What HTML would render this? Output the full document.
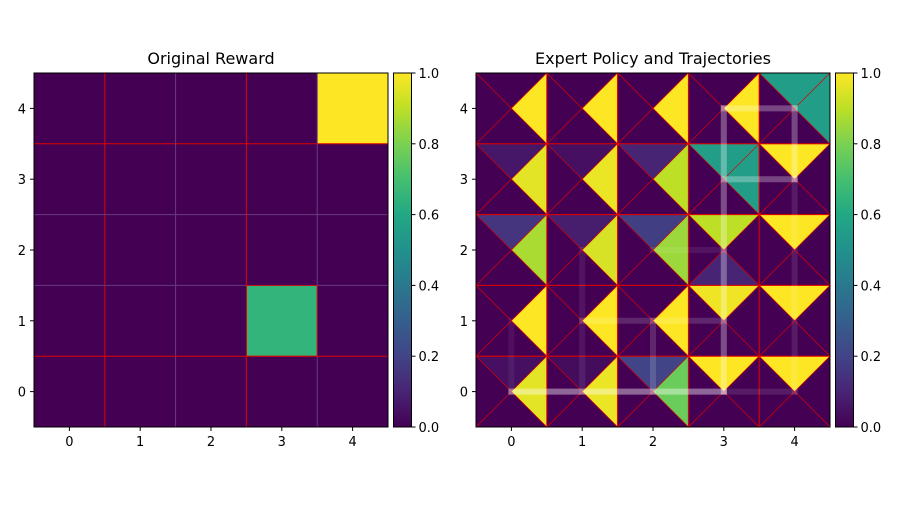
<!DOCTYPE html>
<html><head><meta charset="utf-8"><style>
body{margin:0;background:#fff}
svg text{font-family:"DejaVu Sans","Liberation Sans",sans-serif;fill:#000}
</style></head><body>
<svg id="chart" width="900" height="500" xmlns="http://www.w3.org/2000/svg">
<defs>
<linearGradient id="vir" x1="0" y1="1" x2="0" y2="0">
<stop offset="0" stop-color="#440154"/><stop offset="0.1" stop-color="#482475"/><stop offset="0.2" stop-color="#414487"/><stop offset="0.3" stop-color="#355f8d"/><stop offset="0.4" stop-color="#2a788e"/><stop offset="0.5" stop-color="#21918c"/><stop offset="0.6" stop-color="#22a884"/><stop offset="0.7" stop-color="#44bf70"/><stop offset="0.8" stop-color="#7ad151"/><stop offset="0.9" stop-color="#bddf26"/><stop offset="1" stop-color="#fde725"/>
</linearGradient>
</defs>
<g id="left"></g>
<g id="right"></g>
</svg>
<script>
// Data
const rewardRows = [ // y=4 .. y=0, x=0..4
  [0,0,0,0,1],
  [0,0,0,0,0],
  [0,0,0,0,0],
  [0,0,0,0.65,0],
  [0,0,0,0,0]
];
// policy per cell, rows y=4..0
const policyTop = [
  [0,0,0,0,0.55],[0.06,0.04,0.1,0.55,1],[0.15,0.08,0.18,0.9,1],[0,0,0,0.98,1],[0.04,0.03,0.2,1,1]];
const policyRight = [
  [1,1,1,1,0.55],[0.96,0.97,0.9,0.55,0],[0.87,0.94,0.85,0,0],[1,1,1,0,0],[0.96,0.97,0.77,0,0]];
const policyBottom = [
  [0,0,0,0,0],[0,0,0,0,0],[0,0,0,0.1,0],[0,0,0,0,0],[0,0,0,0,0]];
const policyLeft = [
  [0,0,0,0,0],[0,0,0,0,0],[0,0,0,0,0],[0,0,0,0,0],[0,0,0,0,0]];
const trajSegments = [ // [x1,y1,x2,y2,opacity]
  [0,0,3,0,0.4],[3,0,3,4,0.3],[3,4,4,4,0.28],[4,4,4,3,0.28],[3,3,4,3,0.28],
  [3,0,4,0,0.1],[4,0,4,3,0.1],[1,0,1,2,0.08],[2,0,2,1,0.15],[1,1,3,1,0.15],[2,2,3,2,0.08],[0,0,0,1,0.06]];
const tickLabels = ['0','1','2','3','4'];
const cbTicks = [0,0.2,0.4,0.6,0.8,1.0];

const stops=[[68,1,84],[72,36,117],[65,68,135],[53,95,141],[42,120,142],[33,145,140],[34,168,132],[68,191,112],[122,209,81],[189,223,38],[253,231,37]];
function vir(v){v=Math.max(0,Math.min(1,v));const p=v*10,i=Math.min(9,Math.floor(p)),f=p-i;const a=stops[i],b=stops[i+1];return 'rgb('+a.map((c,k)=>Math.round(c+(b[k]-c)*f)).join(',')+')';}
const NS='http://www.w3.org/2000/svg';
function el(tag,attrs,parent,txt){const e=document.createElementNS(NS,tag);for(const k in attrs)e.setAttribute(k,attrs[k]);if(txt!==undefined)e.textContent=txt;parent.appendChild(e);return e;}
const Y0=73,S=354,C=S/5;
function decorate(g,X0,title){
  const sx=v=>X0+(v+0.5)*C, sy=v=>Y0+(4.5-v)*C;
  const fr=el('rect',{x:X0,y:Y0,width:S,height:S,fill:'none',stroke:'#000','stroke-width':1},g);
  
  const t=el('text',{x:X0+S/2,y:64,'text-anchor':'middle','font-size':16},g,title);
  
  tickLabels.forEach((lb,i)=>{
    el('line',{x1:sx(i),x2:sx(i),y1:Y0+S,y2:Y0+S+4,stroke:'#000'},g);
    const a=el('text',{x:sx(i),y:Y0+S+19,'text-anchor':'middle','font-size':13},g,lb);
    
    el('line',{x1:X0-4,x2:X0,y1:sy(i),y2:sy(i),stroke:'#000'},g);
    const b=el('text',{x:X0-8,y:sy(i)+5,'text-anchor':'end','font-size':13},g,lb);
    
  });
  const cx=X0+S+5.5,cw=18;
  const cb=el('rect',{x:cx,y:Y0,width:cw,height:S,fill:'url(#vir)',stroke:'#000','stroke-width':1},g);
  
  cbTicks.forEach(v=>{const y=Y0+S-v*S;
    el('line',{x1:cx+cw,x2:cx+cw+4,y1:y,y2:y,stroke:'#000'},g);
    const t2=el('text',{x:cx+cw+7,y:y+5,'font-size':13},g,v.toFixed(1));
    
  });
}
// Left
const L=document.getElementById('left'),LX=34;
rewardRows.forEach((row,r)=>row.forEach((v,c)=>{
  const rc=el('rect',{x:LX+c*C,y:Y0+r*C,width:C+0.5,height:C+0.5,fill:vir(v)},L);
  
}));
for(let i=1;i<5;i++){
  const red=(i===1||i===3);
  el('line',{x1:LX+i*C,x2:LX+i*C,y1:Y0,y2:Y0+S,stroke:red?'#e00000':'#6a3a80','stroke-width':1},L);
  const redH=(i===1||i===4);
  el('line',{x1:LX,x2:LX+S,y1:Y0+i*C,y2:Y0+i*C,stroke:redH?'#e00000':'#6a3a80','stroke-width':1},L);
}
el('rect',{x:LX+3*C,y:Y0+3*C,width:C,height:C,fill:'none',stroke:'#e00000','stroke-width':0.8},L);
decorate(L,LX,'Original Reward');
// Right
const R=document.getElementById('right'),RX=476;
for(let r=0;r<5;r++)for(let c=0;c<5;c++){
  const x=RX+c*C,y=Y0+r*C,mx=x+C/2,my=y+C/2;
  const tris=[[policyTop,[[x,y],[x+C,y]]],[policyRight,[[x+C,y],[x+C,y+C]]],[policyBottom,[[x+C,y+C],[x,y+C]]],[policyLeft,[[x,y+C],[x,y]]]];
  tris.forEach(([arr,pts])=>{
    const p=el('polygon',{points:pts.map(q=>q.join(',')).join(' ')+' '+mx+','+my,fill:vir(arr[r][c]),stroke:'#e00000','stroke-width':0.6},R);
    
  });
}
for(let i=0;i<=5;i++){
  el('line',{x1:RX+i*C,x2:RX+i*C,y1:Y0,y2:Y0+S,stroke:'#e00000','stroke-width':1},R);
  el('line',{x1:RX,x2:RX+S,y1:Y0+i*C,y2:Y0+i*C,stroke:'#e00000','stroke-width':1},R);
}
const rsx=v=>RX+(v+0.5)*C, rsy=v=>Y0+(4.5-v)*C;
trajSegments.forEach(s=>{
  const ln=el('line',{x1:rsx(s[0]),y1:rsy(s[1]),x2:rsx(s[2]),y2:rsy(s[3]),stroke:'#fff','stroke-opacity':s[4],'stroke-width':6,'stroke-linecap':'square'},R);
  
});
decorate(R,RX,'Expert Policy and Trajectories');
</script>
</body></html>
